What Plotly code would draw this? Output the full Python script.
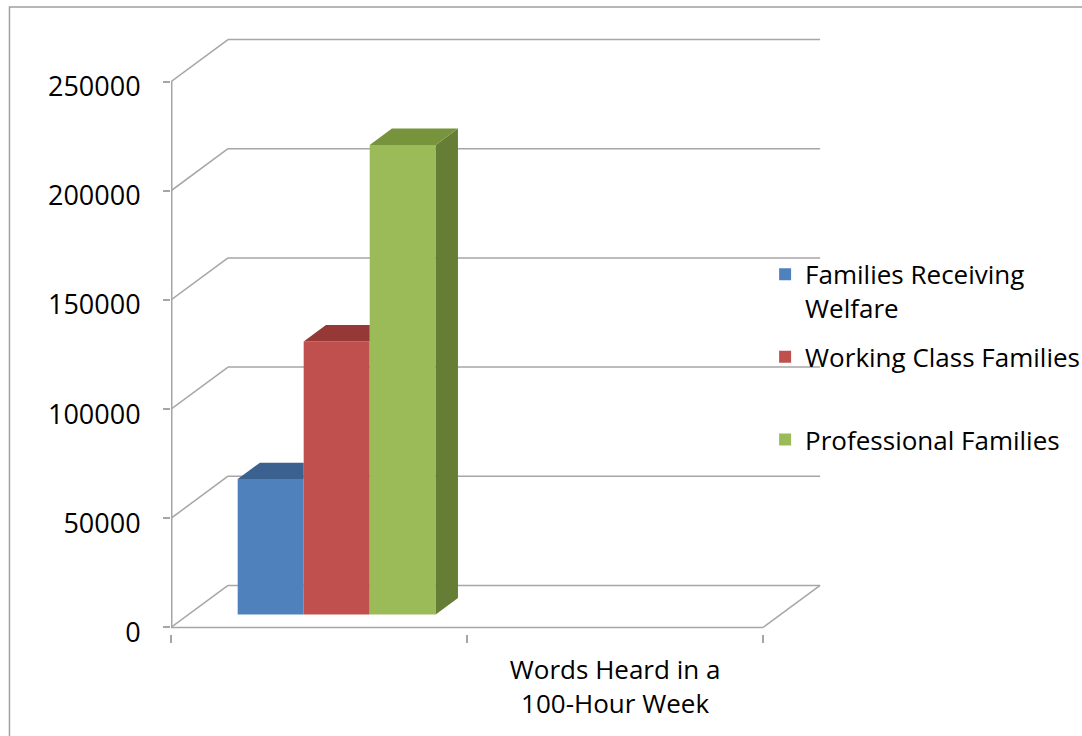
import plotly.graph_objects as go

# ---------------- data ----------------
categories = ["", "Words Heard in a<br>100-Hour Week"]
series_names = ["Families Receiving<br>Welfare", "Working Class Families<br> ", "Professional Families"]
values = [62000, 125000, 215000]          # all in the first category
y_ticks = [0, 50000, 100000, 150000, 200000, 250000]
y_tick_labels = [str(v) for v in y_ticks]

# ---------------- style ----------------
front_colors = ["#4F81BD", "#C0504D", "#9BBB59"]
top_colors = ["#3B6190", "#963835", "#77933C"]
side_colors = ["#2F4D73", "#7A2E2C", "#657D34"]
GRID = "#A6A6A6"
FONT = "Open Sans"

W, H = 1082, 736
PX_CAT = 296.0             # px per category
KY = 545.0 / 250000        # px per value unit
DXB = 57.0 / PX_CAT        # depth offset (x units)
DYB = 42.0 / KY            # depth offset (value units)
BAR_W = 66.0 / PX_CAT
F0, F1 = 0.31, 0.70        # bar depth fraction (front, back)

XMIN, XMAX = -0.5, 1.5 + DXB + 0.03
YMIN, YMAX = -3000, y_ticks[-1] + DYB + 3000
FRONT_X_PX, ZERO_Y_PX = 171.0, 627.0
ml = FRONT_X_PX + (XMIN + 0.5) * PX_CAT
pw = (XMAX - XMIN) * PX_CAT
mr = W - ml - pw
mb = H - (ZERO_Y_PX - YMIN * KY)
mt = ZERO_Y_PX - YMAX * KY


def px_x(px):
    return (px - ml) / pw


def px_y(py):
    return (H - mb - py) / (H - mb - mt)


fig = go.Figure()

n = len(values)
x0s, x1s, tops = [], [], []
base = F0 * DYB
ddx, ddy = (F1 - F0) * DXB, (F1 - F0) * DYB
for i in range(n):
    xc = 0 + (i - (n - 1) / 2) * BAR_W + F0 * DXB
    x0s.append(xc - BAR_W / 2)
    x1s.append(xc + BAR_W / 2)
    tops.append(base + values[i])
    fig.add_trace(go.Bar(
        x=[xc], y=[values[i]], base=[base], width=[BAR_W],
        marker=dict(color=front_colors[i], line=dict(width=0)),
        name=series_names[i], legendgroup=f"g{i}", showlegend=True,
    ))

for i in range(n):
    x0, x1, t = x0s[i], x1s[i], tops[i]
    nxt_taller = i + 1 < n and tops[i + 1] >= t + ddy
    if nxt_taller:
        tx = [x0, x1, x1, x0 + ddx, x0]
        ty = [t, t, t + ddy, t + ddy, t]
    else:
        tx = [x0, x1, x1 + ddx, x0 + ddx, x0]
        ty = [t, t, t + ddy, t + ddy, t]
        sx = [x1, x1, x1 + ddx, x1 + ddx, x1]
        sy = [base, t, t + ddy, base + ddy, base]
        fig.add_trace(go.Scatter(x=sx, y=sy, mode="lines", fill="toself",
                                 fillcolor=side_colors[i], line=dict(width=0),
                                 showlegend=False, hoverinfo="skip"))
    fig.add_trace(go.Scatter(x=tx, y=ty, mode="lines", fill="toself",
                             fillcolor=top_colors[i], line=dict(width=0),
                             showlegend=False, hoverinfo="skip"))

# invisible trace to anchor the category-label axis
fig.add_trace(go.Scatter(x=[0, 1], y=[None, None], xaxis="x2", mode="markers",
                         showlegend=False, hoverinfo="skip"))

shapes = []
line = dict(color=GRID, width=1.5)
shapes.append(dict(type="line", xref="x", yref="y", x0=-0.5, y0=0, x1=-0.5,
                   y1=y_ticks[-1], line=dict(color=GRID, width=3), layer="below"))
for v in y_ticks:
    shapes.append(dict(type="line", xref="x", yref="y", x0=-0.5, y0=v,
                       x1=-0.5 + DXB, y1=v + DYB, line=line, layer="below"))
    shapes.append(dict(type="line", xref="x", yref="y", x0=-0.5 + DXB, y0=v + DYB,
                       x1=len(categories) - 0.5 + DXB, y1=v + DYB, line=line, layer="below"))
shapes.append(dict(type="line", xref="x", yref="y", x0=-0.5, y0=0,
                   x1=len(categories) - 0.5, y1=0, line=line, layer="below"))
shapes.append(dict(type="line", xref="x", yref="y", x0=len(categories) - 0.5, y0=0,
                   x1=len(categories) - 0.5 + DXB, y1=DYB, line=line, layer="below"))
# outer chart border
shapes.append(dict(type="rect", xref="paper", yref="paper",
                   x0=px_x(9.5), y0=px_y(H + 10), x1=px_x(W + 10), y1=px_y(7.5),
                   line=dict(color="#A0A0A0", width=1.5), fillcolor="rgba(0,0,0,0)",
                   layer="below"))

boundaries = [c - 0.5 for c in range(len(categories) + 1)]

fig.update_layout(
    width=W, height=H,
    margin=dict(l=ml, r=mr, t=mt, b=mb, autoexpand=False),
    paper_bgcolor="white", plot_bgcolor="white",
    barmode="overlay",
    font=dict(family=FONT, color="black"),
    shapes=shapes,
    xaxis=dict(range=[XMIN, XMAX], tickvals=boundaries, ticktext=[""] * len(boundaries),
               ticks="outside", ticklen=8, tickwidth=1.5, tickcolor=GRID,
               showgrid=False, zeroline=False, showline=False, fixedrange=True),
    xaxis2=dict(range=[XMIN, XMAX], overlaying="x", anchor="y", side="bottom",
                tickvals=list(range(len(categories))), ticktext=categories,
                ticks="", showgrid=False, zeroline=False, showline=False,
                tickfont=dict(size=26, family=FONT), ticklabelstandoff=18),
    yaxis=dict(range=[YMIN, YMAX], tickvals=y_ticks, ticktext=y_tick_labels,
               ticks="outside", ticklen=7, tickwidth=1.5, tickcolor=GRID,
               showgrid=False, zeroline=False, showline=False,
               tickfont=dict(size=27, family=FONT), ticklabelstandoff=17,
               ticklabelshift=5),
    legend=dict(x=px_x(765), y=px_y(251), xanchor="left", yanchor="top",
                font=dict(size=26, family=FONT), traceorder="grouped",
                tracegroupgap=12, valign="top", bgcolor="rgba(0,0,0,0)",
                itemclick=False),
    showlegend=True,
)

fig.write_html("out.html")
